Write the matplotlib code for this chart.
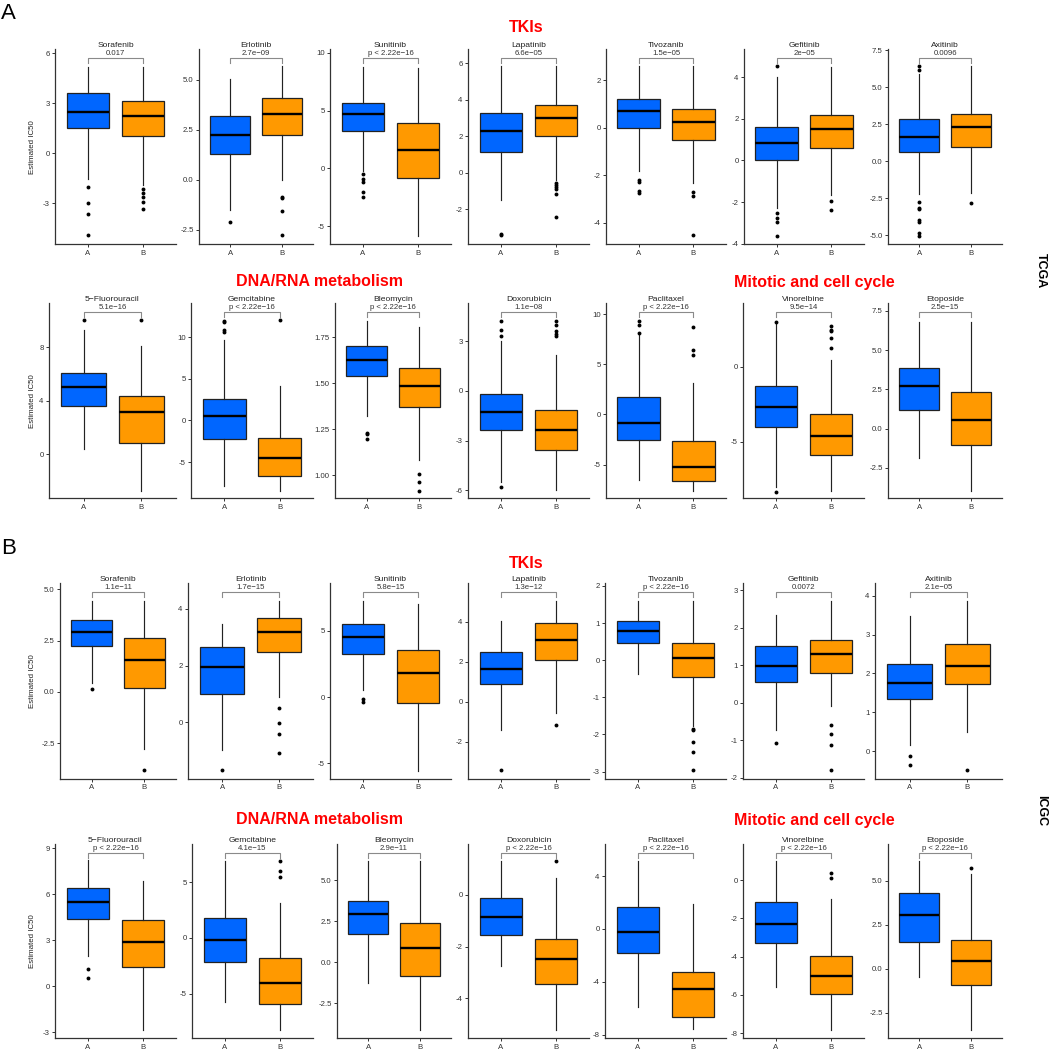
import matplotlib
matplotlib.use("Agg")
import matplotlib.pyplot as plt
from matplotlib.transforms import blended_transform_factory

plt.rcParams['font.family'] = ['Liberation Sans', 'DejaVu Sans']

# ---------------- data ----------------
groups = ["A", "B"]
group_colors = ["#0066FF", "#FF9900"]
cohorts = ["TCGA", "ICGC"]
panel_letters = ["A", "B"]
class_titles = ["TKIs", "DNA/RNA metabolism", "Mitotic and cell cycle"]

drugs = ["Sorafenib", "Erlotinib", "Sunitinib", "Lapatinib", "Tivozanib", "Gefitinib", "Axitinib",
         "5\u2212Fluorouracil", "Gemcitabine", "Bleomycin", "Doxorubicin", "Paclitaxel", "Vinorelbine", "Etoposide"]

P = "p < 2.22e\u221216"
tcga_p = ["0.017", "2.7e\u221209", P, "6.6e\u221205", "1.5e\u221205", "2e\u221205", "0.0096",
          "5.1e\u221216", P, P, "1.1e\u221208", P, "9.5e\u221214", "2.5e\u221215"]
icgc_p = ["1.1e\u221211", "1.7e\u221215", "5.8e\u221215", "1.3e\u221212", P, "0.0072", "2.1e\u221205",
          P, "4.1e\u221215", "2.9e\u221211", P, P, P, P]

# box stats: [lower whisker, Q1, median, Q3, upper whisker]
tcga_A = [[-1.56, 1.5, 2.46, 3.6, 5.2], [-1.53, 1.3, 2.25, 3.2, 5.03], [-0.2, 3.26, 4.67, 5.68, 8.8],
          [-1.5, 1.11, 2.3, 3.25, 5.84], [-1.8, -0.01, 0.72, 1.22, 2.61], [-2.3, 0.02, 0.82, 1.6, 3.98],
          [-2.2, 0.61, 1.62, 2.83, 5.89],
          [0.4, 3.63, 5.0, 6.08, 9.33], [-7.87, -2.21, 0.52, 2.61, 9.72], [1.324, 1.541, 1.627, 1.703, 1.837],
          [-5.46, -2.37, -1.24, -0.2, 3.03], [-6.5, -2.57, -0.9, 1.7, 7.97], [-8.0, -4.04, -2.67, -1.29, 2.9],
          [-1.89, 1.21, 2.71, 3.83, 6.8]]
tcga_B = [[-1.9, 1.06, 2.22, 3.16, 5.2], [-0.03, 2.25, 3.3, 4.1, 5.7], [-5.83, -0.87, 1.59, 3.9, 8.65],
          [-0.4, 2.03, 2.98, 3.74, 5.84], [-2.33, -0.52, 0.24, 0.8, 2.61], [-1.66, 0.61, 1.52, 2.16, 4.5],
          [-2.11, 0.94, 2.29, 3.21, 6.43],
          [-2.73, 0.83, 3.18, 4.33, 8.08], [-8.47, -6.63, -4.46, -2.05, 4.18], [1.083, 1.373, 1.486, 1.584, 1.807],
          [-6.0, -3.57, -2.37, -1.16, 2.17], [-7.63, -6.63, -5.2, -2.67, 3.13], [-8.29, -5.89, -4.62, -3.13, 0.44],
          [-3.96, -1.06, 0.53, 2.35, 6.8]]
tcga_A_out = [[-2.04, -3.0, -3.64, -4.92], [-2.13], [-0.49, -0.95, -1.15, -2.08, -2.5],
              [-3.38, -3.43], [-2.19, -2.26, -2.64, -2.72], [4.51, -2.51, -2.78, -2.94, -3.62],
              [6.45, 6.16, -2.76, -3.12, -3.24, -3.96, -4.09, -4.85, -5.01],
              [10.05], [12.0, 11.9, 10.84, 10.6], [1.230, 1.222, 1.195],
              [4.22, 3.67, 3.31, -5.76], [9.37, 8.97, 8.13], [3.0, -8.33], []]
tcga_B_out = [[-2.16, -2.4, -2.6, -2.9, -3.36], [-0.88, -0.92, -1.58, -2.78], [],
              [-0.55, -0.68, -0.8, -0.9, -1.19, -2.41], [-2.71, -2.85, -4.51], [-1.94, -2.38], [-2.79],
              [10.05], [12.05], [1.005, 0.962, 0.917],
              [4.22, 3.96, 3.63, 3.43, 3.33], [8.73, 6.4, 5.97], [2.73, 2.44, 2.36, 1.89, 1.22], []]

icgc_A = [[0.45, 2.26, 2.94, 3.51, 4.45], [-0.98, 0.99, 1.94, 2.65, 3.47], [0.55, 3.27, 4.58, 5.52, 7.3],
          [-1.4, 0.92, 1.67, 2.5, 4.05], [-0.36, 0.46, 0.78, 1.05, 1.6], [-0.73, 0.56, 0.99, 1.5, 2.33],
          [0.15, 1.33, 1.75, 2.23, 3.49],
          [2.0, 4.39, 5.48, 6.43, 8.24], [-5.7, -2.12, -0.21, 1.76, 6.93], [-1.3, 1.71, 2.93, 3.74, 6.18],
          [-2.77, -1.57, -0.84, -0.13, 1.33], [-5.87, -1.79, -0.23, 1.69, 5.16], [-5.57, -3.3, -2.3, -1.13, 1.01],
          [-0.44, 1.55, 3.07, 4.34, 6.16]]
icgc_B = [[-2.79, 0.19, 1.57, 2.61, 4.45], [0.88, 2.49, 3.2, 3.66, 4.29], [-5.6, -0.45, 1.86, 3.53, 7.05],
          [-0.57, 2.12, 3.1, 3.93, 5.07], [-1.76, -0.44, 0.05, 0.46, 1.6], [-0.08, 0.8, 1.3, 1.67, 2.72],
          [0.5, 1.72, 2.18, 2.76, 3.87],
          [-2.85, 1.28, 2.87, 4.3, 6.87], [-8.24, -5.94, -4.06, -1.82, 3.16], [-4.15, -0.83, 0.85, 2.36, 6.18],
          [-5.23, -3.46, -2.5, -1.72, 0.65], [-7.58, -6.62, -4.53, -3.22, 1.86], [-7.83, -5.97, -4.99, -3.95, -1.01],
          [-3.47, -0.93, 0.47, 1.63, 5.38]]
icgc_A_out = [[0.15], [-1.68], [-0.15, -0.38], [-3.4], [], [-1.06], [-0.13, -0.36],
              [1.15, 0.52], [], [], [], [], [], []]
icgc_B_out = [[-3.8], [0.49, -0.01, -0.4, -1.07], [], [-1.15], [-1.85, -1.89, -2.21, -2.48, -2.97],
              [-0.58, -0.83, -1.13, -1.79], [-0.49],
              [], [6.93, 6.03, 5.49], [], [1.33], [], [0.38, 0.09], [5.72]]

# y axis ranges and ticks
tcga_ylim = [(-5.46, 6.24), (-3.22, 6.53), (-6.58, 10.3), (-3.93, 6.77), (-4.9, 3.31), (-4.03, 5.33), (-5.6, 7.55),
             (-3.3, 11.3), (-9.36, 14.1), (0.875, 1.933), (-6.47, 5.28), (-8.37, 11.1), (-8.78, 4.22), (-4.43, 7.97)]
tcga_yticks = [[-3, 0, 3, 6], [-2.5, 0, 2.5, 5], [-5, 0, 5, 10], [-2, 0, 2, 4, 6], [-4, -2, 0, 2],
               [-4, -2, 0, 2, 4], [-5, -2.5, 0, 2.5, 5, 7.5],
               [0, 4, 8], [-5, 0, 5, 10], [1.0, 1.25, 1.5, 1.75], [-6, -3, 0, 3], [-5, 0, 5, 10], [-5, 0],
               [-2.5, 0, 2.5, 5, 7.5]]
tcga_ylabels = [["-3", "0", "3", "6"], ["-2.5", "0.0", "2.5", "5.0"], ["-5", "0", "5", "10"],
                ["-2", "0", "2", "4", "6"], ["-4", "-2", "0", "2"], ["-4", "-2", "0", "2", "4"],
                ["-5.0", "-2.5", "0.0", "2.5", "5.0", "7.5"],
                ["0", "4", "8"], ["-5", "0", "5", "10"], ["1.00", "1.25", "1.50", "1.75"], ["-6", "-3", "0", "3"],
                ["-5", "0", "5", "10"], ["-5", "0"], ["-2.5", "0.0", "2.5", "5.0", "7.5"]]
icgc_ylim = [(-4.24, 5.29), (-2.0, 4.9), (-6.17, 8.6), (-3.85, 5.93), (-3.2, 2.07), (-2.03, 3.18), (-0.72, 4.32),
             (-3.39, 9.28), (-8.99, 8.42), (-4.65, 7.2), (-5.55, 1.97), (-8.26, 6.42), (-8.26, 1.88), (-3.94, 7.1)]
icgc_yticks = [[-2.5, 0, 2.5, 5], [0, 2, 4], [-5, 0, 5], [-2, 0, 2, 4], [-3, -2, -1, 0, 1, 2],
               [-2, -1, 0, 1, 2, 3], [0, 1, 2, 3, 4],
               [-3, 0, 3, 6, 9], [-5, 0, 5], [-2.5, 0, 2.5, 5], [-4, -2, 0], [-8, -4, 0, 4],
               [-8, -6, -4, -2, 0], [-2.5, 0, 2.5, 5]]
icgc_ylabels = [["-2.5", "0.0", "2.5", "5.0"], ["0", "2", "4"], ["-5", "0", "5"], ["-2", "0", "2", "4"],
                ["-3", "-2", "-1", "0", "1", "2"], ["-2", "-1", "0", "1", "2", "3"], ["0", "1", "2", "3", "4"],
                ["-3", "0", "3", "6", "9"], ["-5", "0", "5"], ["-2.5", "0.0", "2.5", "5.0"], ["-4", "-2", "0"],
                ["-8", "-4", "0", "4"], ["-8", "-6", "-4", "-2", "0"], ["-2.5", "0.0", "2.5", "5.0"]]

# ---------------- layout (pixels) ----------------
W = H = 1052
rights = [176, 313, 451, 589, 726, 864, 1002]
lefts = [[55, 199, 330, 468, 606, 744, 888],
         [49, 191, 335, 468, 606, 743, 888],
         [60, 188, 330, 468, 605, 743, 875],
         [55, 192, 337, 468, 605, 743, 888]]
tops = [49.3, 303.3, 583.3, 844.0]
bottoms = [244.3, 498.3, 779.0, 1038.3]

fig = plt.figure(figsize=(W / 100, H / 100), dpi=100)
fig.patch.set_facecolor("white")


def fx(px):
    return px / W


def fy(py):
    return 1 - py / H


datasets = [
    (tcga_A, tcga_B, tcga_A_out, tcga_B_out, tcga_p, tcga_ylim, tcga_yticks, tcga_ylabels),
    (icgc_A, icgc_B, icgc_A_out, icgc_B_out, icgc_p, icgc_ylim, icgc_yticks, icgc_ylabels),
]

edge = "#222222"
for ri in range(4):
    dA, dB, oA, oB, pv, ylims, yt, ytl = datasets[ri // 2]
    for ci in range(7):
        idx = (ri % 2) * 7 + ci
        l, r = lefts[ri][ci], rights[ci]
        t, b = tops[ri], bottoms[ri]
        ax = fig.add_axes([fx(l), fy(b), (r - l) / W, (b - t) / H])
        stats = []
        for s, o, g in ((dA[idx], oA[idx], groups[0]), (dB[idx], oB[idx], groups[1])):
            stats.append(dict(whislo=s[0], q1=s[1], med=s[2], q3=s[3], whishi=s[4], fliers=o, label=g))
        res = ax.bxp(stats, positions=[1, 2], widths=0.78, patch_artist=True, showcaps=False,
                     boxprops=dict(linewidth=0.9, edgecolor=edge),
                     medianprops=dict(color="black", linewidth=1.7),
                     whiskerprops=dict(color=edge, linewidth=0.85),
                     flierprops=dict(marker="o", markerfacecolor="black", markeredgecolor="black",
                                     markersize=2.8, markeredgewidth=0))
        for patch, c in zip(res["boxes"], group_colors):
            patch.set_facecolor(c)
        ax.set_xlim(0.4, 2.6)
        ax.set_ylim(*ylims[idx])
        ax.set_yticks(yt[idx])
        ax.set_yticklabels(ytl[idx])
        ax.set_xticks([1, 2])
        ax.set_xticklabels(groups)
        for sp in ("top", "right"):
            ax.spines[sp].set_visible(False)
        for sp in ("left", "bottom"):
            ax.spines[sp].set_color("#333333")
            ax.spines[sp].set_linewidth(0.9)
        ax.tick_params(axis="both", length=2.3, width=0.7, color="#333333", labelsize=5.6,
                       pad=1.5, labelcolor="#333333")
        ax.set_facecolor("white")
        h = b - t
        trans = blended_transform_factory(ax.transData, ax.transAxes)
        yb = 1 - 9.0 / h
        yb2 = 1 - 13.5 / h
        ax.plot([1, 1, 2, 2], [yb2, yb, yb, yb2], transform=trans, color="#8a8a8a",
                linewidth=0.8, clip_on=False)
        ax.text(1.5, 1 - 4.3 / h, pv[idx], transform=trans, ha="center", va="center",
                fontsize=5.6, color="#333333")
        fig.text(fx((l + r) / 2), fy(t - 3.6), drugs[idx], ha="center", va="center",
                 fontsize=6.1, color="#222222")
        if ci == 0:
            fig.text(fx(33), fy((t + b) / 2), "Estimated IC50", rotation=90, ha="center",
                     va="center", fontsize=5.7, color="#222222")

# class titles
title_y = [27, 282, 563, 820]
for ri in range(4):
    if ri % 2 == 0:
        fig.text(fx(526), fy(title_y[ri]), class_titles[0], color="#FF0000", fontweight="bold",
                 fontsize=11.5, ha="center", va="center")
    else:
        fig.text(fx(320), fy(title_y[ri]), class_titles[1], color="#FF0000", fontweight="bold",
                 fontsize=11.5, ha="center", va="center")
        fig.text(fx(814), fy(title_y[ri]), class_titles[2], color="#FF0000", fontweight="bold",
                 fontsize=11.5, ha="center", va="center")

# panel letters and cohort labels
fig.text(fx(1), fy(13.5), panel_letters[0], fontsize=16, ha="left", va="center")
fig.text(fx(1), fy(548), panel_letters[1], fontsize=16, ha="left", va="center")
fig.text(fx(1041), fy(271), cohorts[0], rotation=-90, fontsize=9, fontweight="bold",
         ha="center", va="center")
fig.text(fx(1041), fy(811), cohorts[1], rotation=-90, fontsize=9, fontweight="bold",
         ha="center", va="center")

fig.savefig("out.png", dpi=100, facecolor="white")
